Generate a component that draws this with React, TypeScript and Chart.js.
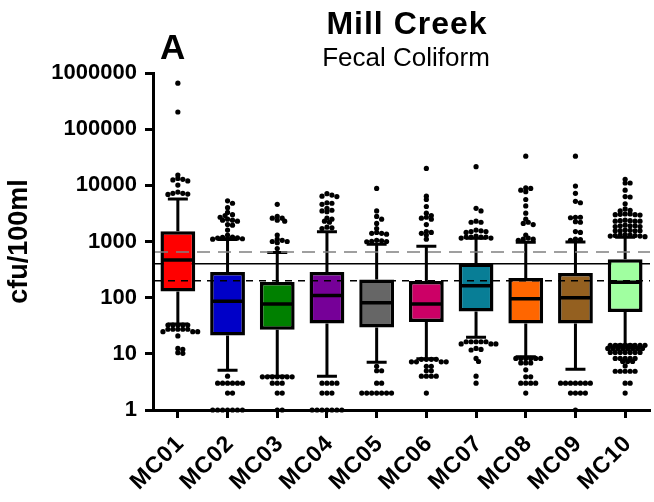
import React, { useEffect, useRef } from "react";
import { Chart, registerables } from "chart.js";

Chart.register(...registerables);

const FONT = "'Liberation Sans', Arial, Helvetica, sans-serif";

const chartTitle = "Mill Creek";
const chartSubtitle = "Fecal Coliform";
const panelLetter = "A";
const yAxisTitle = "cfu/100ml";

const categories = ["MC01", "MC02", "MC03", "MC04", "MC05", "MC06", "MC07", "MC08", "MC09", "MC10"];
const yTicks = [1, 10, 100, 1000, 10000, 100000, 1000000];

const upperWhisker = [5700, 1085, 637, 1494, 891, 821, 1140, 971, 980, 1188];
const q3 = [1520, 287, 191, 287, 210, 199, 404, 225, 276, 482];
const median = [468, 86, 77, 109, 81, 77, 163, 96, 100, 188];
const q1 = [129, 21.2, 26.9, 34.8, 29.5, 36.7, 56.6, 34.8, 34.8, 55.3];
const lowerWhisker = [34, 5.1, 4.0, 4.0, 7.1, 8.2, 19.7, 8.9, 5.3, 14.4];

const boxColors = ["#ff0000", "#0000c8", "#008000", "#760098", "#666666", "#cc0066", "#087e96", "#ff6600", "#946020", "#a0ffa0"];

// reference lines
const refSolid = 400;
const refDashedBlack = 200;
const refDashedGray = 650;

const upperOutliers = [
  [660000, 202000, 15200, 13300, 12800, 12500, 12000, 10100, 7600, 7200, 7200, 7000, 6900],
  [5300, 4800, 4000, 3300, 3000, 2900, 2700, 2500, 2400, 2400, 2300, 2000, 1950, 1600, 1300, 1200, 1180, 1160, 1150, 1140, 1120, 1100],
  [4600, 2800, 2600, 2600, 2400, 2300, 1300, 1100, 1050, 1000, 1000, 950, 750],
  [7100, 6700, 6400, 6300, 4900, 4800, 4600, 3900, 3600, 3500, 3400, 2600, 2500, 2300, 2200, 1800, 1750, 1700],
  [8800, 3500, 2800, 2500, 2100, 1700, 1450, 1400, 1400, 1350, 1050, 1030, 1010, 1000, 990],
  [20000, 6400, 5600, 4200, 3200, 2900, 2700, 2600, 2500, 2000, 1500, 1450, 1400, 1300, 1100],
  [21500, 3900, 3500, 2300, 2200, 2200, 1600, 1550, 1500, 1500, 1450, 1250, 1200, 1200, 1200, 1200, 1150, 1150],
  [33000, 9000, 8800, 8200, 7700, 5600, 4300, 3200, 2500, 2200, 2100, 2000, 1300, 1150, 1100, 1100, 1050],
  [33000, 9700, 7200, 5200, 4900, 2700, 2700, 2650, 2250, 2200, 1500, 1450, 1100, 1080, 1050],
  [12800, 11000, 11000, 8200, 6300, 6200, 4700, 3800, 3600, 3500, 3100, 3100, 3050, 3000, 3000, 2950, 2400, 2350, 2350, 2300, 2300, 2300, 1950, 1900, 1900, 1900, 1850, 1850, 1600, 1580, 1560, 1550, 1550, 1550, 1330, 1300, 1300, 1280, 1280, 1250, 1250, 1220],
];

const lowerOutliers = [
  [32.6, 32.6, 32.6, 32.6, 32.6, 27.4, 27.4, 27.4, 27.4, 27.4, 24.8, 24.8, 24.8, 20.8, 12.5, 12, 10.5, 10.2],
  [4, 3, 3, 3, 3, 3, 3, 2, 2, 1, 1, 1, 1, 1, 1, 1],
  [3.9, 3.9, 3.9, 3.9, 3.9, 3.9, 3.9, 3, 3, 3, 2, 2, 1, 1],
  [3, 3, 3, 3, 2, 2, 2, 1, 1, 1, 1, 1, 1, 1],
  [6, 5, 5, 3, 3, 2, 2, 2, 2, 2, 2, 2],
  [8, 8, 8, 8, 7.2, 7.2, 7.2, 7.2, 6, 6, 5, 5, 4, 4, 4, 4, 2],
  [16.4, 16.4, 16.4, 16.4, 16.4, 15, 15, 15, 12.5, 12, 11.7, 8.3, 7.3, 4, 3],
  [8.3, 8.3, 8.3, 8.3, 8.3, 8.3, 6.9, 6.9, 6.9, 5.2, 3.9, 3.9, 3, 3, 3, 3, 2],
  [3, 3, 3, 3, 3, 3, 3, 2, 2, 2, 2, 1],
  [14.2, 14.2, 14.2, 14.2, 14.2, 14.2, 14.2, 14.2, 12.5, 12.5, 12.5, 12.5, 12.5, 12.5, 12.5, 12.5, 10.6, 10.6, 10.6, 10.6, 10.6, 10.6, 10.6, 8.3, 8.3, 8.3, 8.3, 8.3, 7.3, 7.3, 7.3, 6.1, 4.9, 4.9, 4.9, 4.9, 4.9, 3, 3, 2],
];

// Simple beeswarm: spread points of similar value sideways (elliptical spacing, like a dot plot).
function swarm(values: number[], cat: number) {
  const DX = 5;
  const DY = 3.2;
  const STEP = 2.5;
  const pxPerDecade = 56.2;
  const pxPerCat = 50.1;
  const placed: { x: number; y: number }[] = [];
  const out: { x: number; y: number }[] = [];
  for (const v of values) {
    const y = Math.log10(v) * pxPerDecade;
    let x = 0;
    for (let k = 0; k < 80; k++) {
      const cand = (k % 2 === 1 ? 1 : -1) * Math.ceil(k / 2) * STEP;
      if (placed.every((p) => ((p.x - cand) / DX) ** 2 + ((p.y - y) / DY) ** 2 >= 1)) {
        x = cand;
        break;
      }
    }
    placed.push({ x, y });
    out.push({ x: cat + x / pxPerCat, y: v });
  }
  return out;
}

const outlierPoints = categories.flatMap((_, i) => [...swarm(upperOutliers[i], i), ...swarm(lowerOutliers[i], i)]);

const boxPlugin = {
  id: "boxExtras",
  beforeDatasetsDraw(chart: any) {
    const { ctx, chartArea, scales } = chart;
    const y = scales.y;
    const x = scales.x;
    ctx.save();
    // solid reference line (behind boxes)
    const ys = y.getPixelForValue(refSolid);
    ctx.strokeStyle = "#000";
    ctx.lineWidth = 1.5;
    ctx.beginPath();
    ctx.moveTo(chartArea.left + 2, ys);
    ctx.lineTo(chartArea.right, ys);
    ctx.stroke();
    // whiskers
    ctx.lineWidth = 3;
    categories.forEach((_, i) => {
      const cx = x.getPixelForValue(i);
      const cap = 10;
      const yU = y.getPixelForValue(upperWhisker[i]);
      const yL = y.getPixelForValue(lowerWhisker[i]);
      const yQ3 = y.getPixelForValue(q3[i]);
      const yQ1 = y.getPixelForValue(q1[i]);
      ctx.beginPath();
      ctx.moveTo(cx, yQ3);
      ctx.lineTo(cx, yU);
      ctx.moveTo(cx - cap, yU);
      ctx.lineTo(cx + cap, yU);
      ctx.moveTo(cx, yQ1);
      ctx.lineTo(cx, yL);
      ctx.moveTo(cx - cap, yL);
      ctx.lineTo(cx + cap, yL);
      ctx.stroke();
    });
    ctx.restore();
  },
  afterDatasetsDraw(chart: any) {
    const { ctx, chartArea, scales } = chart;
    const y = scales.y;
    const x = scales.x;
    const meta = chart.getDatasetMeta(0);
    ctx.save();
    // medians
    ctx.strokeStyle = "#000";
    ctx.lineWidth = 3.5;
    categories.forEach((_, i) => {
      const bar = meta.data[i];
      const half = bar.width / 2;
      const cx = x.getPixelForValue(i);
      const ym = y.getPixelForValue(median[i]);
      ctx.beginPath();
      ctx.moveTo(cx - half + 1, ym);
      ctx.lineTo(cx + half - 1, ym);
      ctx.stroke();
    });
    // dashed reference lines
    ctx.lineWidth = 1.5;
    ctx.strokeStyle = "#808080";
    ctx.setLineDash([13, 8]);
    let yy = y.getPixelForValue(refDashedGray);
    ctx.beginPath();
    ctx.moveTo(chartArea.left + 2, yy);
    ctx.lineTo(chartArea.right, yy);
    ctx.stroke();
    ctx.strokeStyle = "#000";
    ctx.setLineDash([7, 6]);
    yy = y.getPixelForValue(refDashedBlack);
    ctx.beginPath();
    ctx.moveTo(chartArea.left + 2, yy);
    ctx.lineTo(chartArea.right, yy);
    ctx.stroke();
    ctx.restore();
  },
  afterDraw(chart: any) {
    const { ctx } = chart;
    ctx.save();
    ctx.fillStyle = "#000";
    ctx.textAlign = "center";
    ctx.textBaseline = "alphabetic";
    ctx.font = `bold 32px ${FONT}`;
    try { (ctx as any).letterSpacing = "1px"; } catch (e) {}
    ctx.fillText(chartTitle, 407, 34);
    try { (ctx as any).letterSpacing = "0px"; } catch (e) {}
    ctx.font = `26px ${FONT}`;
    ctx.fillText(chartSubtitle, 406, 66);
    ctx.textAlign = "left";
    ctx.font = `bold 35px ${FONT}`;
    ctx.fillText(panelLetter, 160, 59);
    ctx.restore();
  },
};

export default function App() {
  const ref = useRef<HTMLCanvasElement | null>(null);
  useEffect(() => {
    if (!ref.current) return;
    const tickFont = { family: FONT, size: 22, weight: "bold" as const };
    const xTickFont = { family: FONT, size: 23, weight: "bold" as const };
    const chart = new Chart(ref.current, {
      type: "bar",
      data: {
        labels: categories,
        datasets: [
          {
            type: "bar",
            data: q1.map((a, i) => [a, q3[i]]) as any,
            backgroundColor: boxColors,
            borderColor: "#000",
            borderWidth: 3.5,
            borderSkipped: false,
            grouped: false,
            barPercentage: 0.7,
            categoryPercentage: 1,
            xAxisID: "x",
            yAxisID: "y",
            order: 2,
          } as any,
          {
            type: "scatter",
            data: outlierPoints,
            xAxisID: "xj",
            yAxisID: "y",
            pointRadius: 2.6,
            pointBackgroundColor: "#000",
            pointBorderWidth: 0,
            pointBorderColor: "#000",
            clip: false,
            order: 1,
          } as any,
        ],
      },
      plugins: [boxPlugin],
      options: {
        responsive: true,
        maintainAspectRatio: false,
        animation: false,
        layout: { padding: { top: 73, left: 0, right: 0, bottom: 0 } },
        plugins: {
          legend: { display: false },
          tooltip: { enabled: false },
          title: { display: false },
        },
        scales: {
          x: {
            type: "category",
            offset: true,
            grid: {
              display: true,
              drawOnChartArea: false,
              drawTicks: true,
              tickLength: 8,
              tickWidth: 3,
              tickColor: "#000",
              offset: false,
            },
            border: { display: true, color: "#000", width: 3 },
            ticks: { color: "#000", font: xTickFont, maxRotation: 45, minRotation: 45, padding: 12, labelOffset: 3, autoSkip: false },
            afterFit: (s: any) => {
              s.height = 92;
              s.paddingLeft = 0;
              s.paddingRight = 0;
              if (!s.__spaced) {
                const orig = s.drawLabels.bind(s);
                s.drawLabels = (area: any) => {
                  const c = s.ctx;
                  c.save();
                  try { c.letterSpacing = "1px"; } catch (e) {}
                  orig(area);
                  c.restore();
                };
                s.__spaced = true;
              }
            },
          },
          xj: { type: "linear", min: -0.5, max: 9.5, offset: false, display: false, grid: { offset: false } },
          y: {
            type: "logarithmic",
            min: 1,
            max: 1000000,
            afterBuildTicks: (s: any) => {
              s.ticks = yTicks.map((v) => ({ value: v }));
            },
            ticks: { color: "#000", font: tickFont, padding: 8, autoSkip: false, callback: (v: any) => String(v) },
            grid: { display: true, drawOnChartArea: false, drawTicks: true, tickLength: 8, tickWidth: 3, tickColor: "#000" },
            border: { display: true, color: "#000", width: 3 },
            title: {
              display: true,
              text: yAxisTitle,
              color: "#000",
              font: { family: FONT, size: 27, weight: "bold" },
              padding: { top: 3, bottom: 0 },
            },
            afterFit: (s: any) => {
              s.width = 153;
            },
          },
        } as any,
      },
    });
    return () => chart.destroy();
  }, []);
  return (
    <div style={{ position: "fixed", left: 0, top: 0, width: 654, height: 502, background: "#fff" }}>
      <canvas ref={ref} />
    </div>
  );
}
